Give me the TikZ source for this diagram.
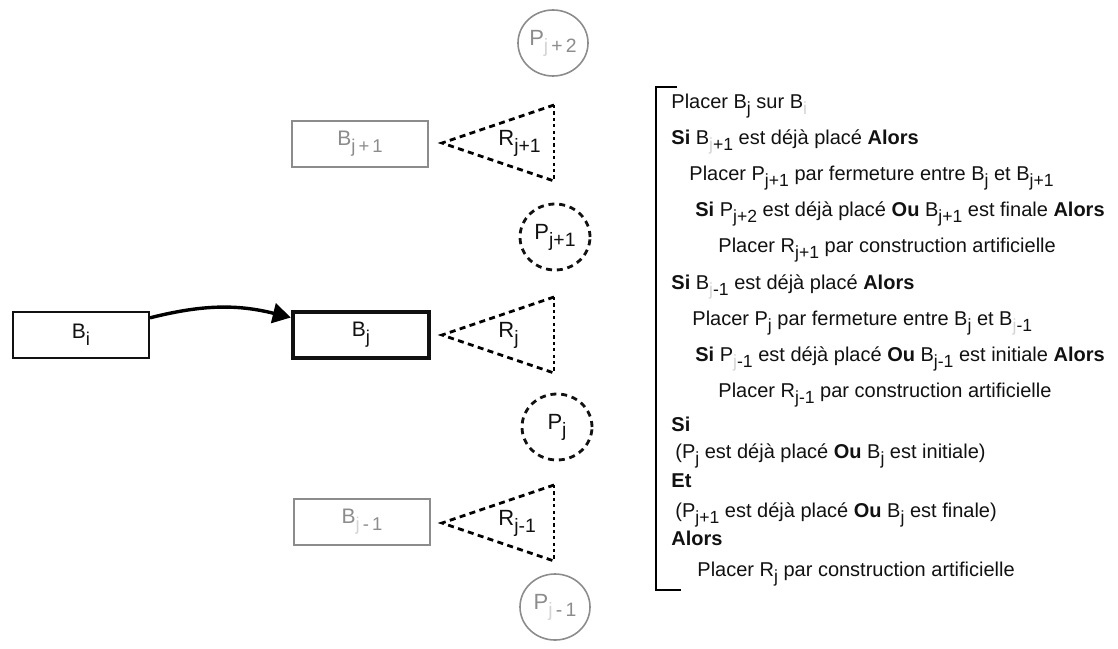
\documentclass[tikz,border=0pt]{standalone}
\usepackage{fontspec}
\usepackage{graphicx}
\setmainfont{Liberation Sans}
\usetikzlibrary{arrows.meta,shapes.geometric}
\definecolor{ink}{HTML}{111111}
\definecolor{pale}{HTML}{8C8C8C}
\definecolor{faint}{HTML}{D4D4D4}
\newcommand{\ix}[1]{\raisebox{-.6ex}{\scalebox{.88}{#1}}}
\newcommand{\fa}[1]{\textcolor{faint}{#1}}

\begin{document}
\begin{tikzpicture}[x=0.5pt,y=-0.5pt,text=ink,>=Latex,
  font=\fontsize{10}{12}\selectfont,
  blk/.style={draw=ink,line width=1pt,minimum width=68pt,minimum height=23pt,
    inner sep=0pt,font=\fontsize{10.5}{12}\selectfont},
  core/.style={blk,line width=2.2pt},
  ghost/.style={blk,draw=pale,line width=.8pt,text=pale},
  pin/.style={ellipse,draw=ink,minimum width=35pt,minimum height=33pt,
    inner sep=0pt,font=\fontsize{11}{12}\selectfont},
  pinloose/.style={pin,line width=1.4pt,dash pattern=on 3pt off 2.4pt},
  pinghost/.style={pin,draw=pale,line width=.8pt,text=pale},
  dotline/.style={line width=1.4pt,dash pattern=on 3pt off 2.2pt},
  dotside/.style={line width=1.4pt,dash pattern=on 1.6pt off 1.6pt},
  lab/.style={anchor=west,inner sep=0pt,font=\fontsize{11}{12}\selectfont},
  line/.style={anchor=base west,inner sep=0pt},
  flow/.style={line width=1.7pt,-{Triangle[length=9pt,width=10pt]}},
  brk/.style={line width=1.3pt}]
  \useasboundingbox (0,0) rectangle (1118,648);

  % blocs
  \node[blk] (Bi) at (81,335) {B\ix{i}\hspace{12pt}};
  \node[core] (Bj) at (361,335) {B\ix{j}\hspace{10pt}};
  \node[ghost] (Bn) at (360,144) {B\ix{j\,+\,1}};
  \node[ghost] (Bp) at (362,522) {B\ix{\fa{j}\,-\,1}};
  \draw[flow] (Bi) to[bend left=14] (Bj);

  % regions
  \foreach \y/\s/\n in {143/{j+1}/Rn,335/j/Rj,523/{j-1}/Rp}{
    \draw[dotline] (554,\y-38) -- (442,\y) -- (554,\y+38);
    \draw[dotside] (554,\y-38) -- (554,\y+38);
    \node[lab] (\n) at (498,\y) {R\ix{\s}};
  }

  % points
  \node[pinghost] (Pnn) at (553,43) {P\ix{\fa{j}\,+\,2}};
  \node[pinloose] (Pn) at (555,237) {P\ix{j+1}};
  \node[pinloose] (Pj) at (557,427) {P\ix{j}};
  \node[pinghost] (Pp) at (555,607) {P\ix{\fa{j}\,-\,1}};

  % algorithme
  \draw[brk] (677,87) -- (656,87) -- (656,590) -- (681,590);
  \node[line] (l1) at (671,108) {Placer B\ix{j} sur B\ix{\fa{i}}};
  \node[line] (l2) at (671,144) {\textbf{Si} B\ix{\fa{j}+1} est déjà placé \textbf{Alors}};
  \node[line] (l3) at (689,180) {Placer P\ix{j+1} par fermeture entre B\ix{j} et B\ix{j+1}};
  \node[line] (l4) at (695,216) {\textbf{Si} P\ix{j+2} est déjà placé \textbf{Ou} B\ix{j+1} est finale \textbf{Alors}};
  \node[line] (l5) at (718,252) {Placer R\ix{j+1} par construction artificielle};
  \node[line] (l6) at (671,289) {\textbf{Si} B\ix{\fa{j}-1} est déjà placé \textbf{Alors}};
  \node[line] (l7) at (692,325) {Placer P\ix{j} par fermeture entre B\ix{j} et B\ix{\fa{j}-1}};
  \node[line] (l8) at (695,361) {\textbf{Si} P\ix{\fa{j}-1} est déjà placé \textbf{Ou} B\ix{j-1} est initiale \textbf{Alors}};
  \node[line] (l9) at (718,397) {Placer R\ix{j-1} par construction artificielle};
  \node[line] (l10) at (671,431) {\textbf{Si}};
  \node[line] (l11) at (675,458) {(P\ix{j} est déjà placé \textbf{Ou} B\ix{j} est initiale)};
  \node[line] (l12) at (671,487) {\textbf{Et}};
  \node[line] (l13) at (675,517) {(P\ix{j+1} est déjà placé \textbf{Ou} B\ix{j} est finale)};
  \node[line] (l14) at (671,545) {\textbf{Alors}};
  \node[line] (l15) at (697,576) {Placer R\ix{j} par construction artificielle};
\end{tikzpicture}
\end{document}
